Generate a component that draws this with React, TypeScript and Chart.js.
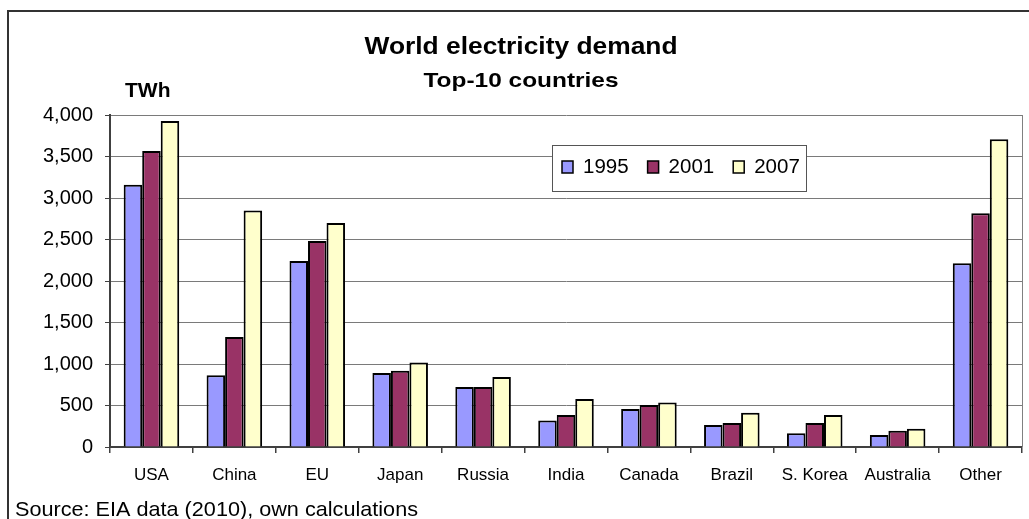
import React, { useEffect, useRef } from "react";
import { Chart, registerables } from "chart.js";

Chart.register(...registerables);

const categories = ["USA", "China", "EU", "Japan", "Russia", "India", "Canada", "Brazil", "S. Korea", "Australia", "Other"];
const seriesLabels = ["1995", "2001", "2007"];
const values1995 = [3160, 865, 2240, 892, 723, 318, 458, 265, 165, 145, 2213];
const values2001 = [3566, 1325, 2482, 918, 723, 386, 506, 289, 289, 197, 2815];
const values2007 = [3928, 2848, 2699, 1017, 843, 578, 535, 414, 386, 221, 3707];
const seriesColors = ["#9999FF", "#993366", "#FFFFCC"];

const titleText = "World electricity demand";
const subtitleText = "Top-10 countries";
const unitText = "TWh";
const sourceText = "Source: EIA data (2010), own calculations";

const FONT = '"Liberation Sans", Arial, sans-serif';

const W = 1029;
const H = 519;

function stretchedText(ctx: CanvasRenderingContext2D, text: string, x: number, y: number, font: string, targetWidth: number | null, align: "left" | "center") {
  ctx.save();
  ctx.font = font;
  ctx.fillStyle = "#000";
  ctx.textBaseline = "alphabetic";
  const w = ctx.measureText(text).width;
  const sx = targetWidth ? targetWidth / w : 1;
  ctx.translate(x, y);
  ctx.scale(sx, 1);
  ctx.textAlign = align;
  ctx.fillText(text, 0, 0);
  ctx.restore();
}

const decorPlugin = {
  id: "decor",
  beforeDatasetsDraw(chart: any) {
    const { ctx, chartArea } = chart;
    ctx.save();
    ctx.strokeStyle = "#808080";
    ctx.lineWidth = 1;
    ctx.beginPath();
    ctx.moveTo(Math.round(chartArea.right) + 0.5, chartArea.top);
    ctx.lineTo(Math.round(chartArea.right) + 0.5, chartArea.bottom);
    ctx.stroke();
    ctx.restore();
  },
  afterDraw(chart: any) {
    const { ctx } = chart;
    // outer frame
    ctx.save();
    ctx.strokeStyle = "#333";
    ctx.lineWidth = 2;
    ctx.beginPath();
    ctx.moveTo(8, H + 5);
    ctx.lineTo(8, 11);
    ctx.lineTo(W + 5, 11);
    ctx.stroke();
    ctx.restore();

    stretchedText(ctx, titleText, 521, 54, `bold 24px ${FONT}`, 313, "center");
    stretchedText(ctx, subtitleText, 521, 87, `bold 21px ${FONT}`, 195, "center");
    stretchedText(ctx, unitText, 125, 97, `bold 21px ${FONT}`, null, "left");
    stretchedText(ctx, sourceText, 15, 516, `21px ${FONT}`, 403, "left");

    // legend
    ctx.save();
    ctx.fillStyle = "#fff";
    ctx.fillRect(552.5, 145.5, 254, 46);
    ctx.strokeStyle = "#555";
    ctx.lineWidth = 1;
    ctx.strokeRect(552.5, 145.5, 254, 46);
    ctx.font = `20.5px ${FONT}`;
    ctx.textBaseline = "alphabetic";
    ctx.textAlign = "left";
    let x = 562;
    chart.data.datasets.forEach((ds: any) => {
      ctx.fillStyle = ds.backgroundColor;
      ctx.fillRect(x, 161, 11, 12);
      ctx.strokeStyle = "#000";
      ctx.lineWidth = 1.5;
      ctx.strokeRect(x, 161, 11, 12);
      ctx.fillStyle = "#000";
      const tx = x + 21;
      ctx.fillText(ds.label, tx, 173);
      x = tx + ctx.measureText(ds.label).width + 19;
    });
    ctx.restore();
  },
};

export default function App() {
  const ref = useRef<HTMLCanvasElement | null>(null);

  useEffect(() => {
    if (!ref.current) return;
    const allValues = [values1995, values2001, values2007];
    const chart = new Chart(ref.current, {
      type: "bar",
      data: {
        labels: categories,
        datasets: seriesLabels.map((label, i) => ({
          label,
          data: allValues[i],
          backgroundColor: seriesColors[i],
          borderColor: "#000",
          borderWidth: 2,
          categoryPercentage: 0.67,
          barPercentage: 1.0,
        })),
      },
      options: {
        responsive: false,
        animation: false,
        layout: { padding: { top: 115, right: 7, left: 0, bottom: 0 } },
        plugins: {
          legend: { display: false },
          title: { display: false },
          tooltip: { enabled: false },
        },
        scales: {
          x: {
            grid: {
              display: true,
              drawOnChartArea: false,
              drawTicks: true,
              offset: true,
              tickLength: 6,
              color: "#404040",
              lineWidth: 1.5,
            },
            border: { display: true, color: "#404040", width: 2 },
            ticks: {
              color: "#000",
              font: { family: FONT, size: 17 },
              padding: 12,
              maxRotation: 0,
              autoSkip: false,
            },
            afterFit(scale: any) {
              scale.height = 72;
            },
          },
          y: {
            min: 0,
            max: 4000,
            ticks: {
              stepSize: 500,
              color: "#000",
              font: { family: FONT, size: 20 },
              padding: 12,
            },
            grid: {
              color: "#7a7a7a",
              lineWidth: 1,
              drawTicks: true,
              tickLength: 5,
              tickColor: "#404040",
            },
            border: { display: true, color: "#404040", width: 2 },
            afterFit(scale: any) {
              scale.width = 110;
            },
          },
        },
      },
      plugins: [decorPlugin],
    });
    return () => chart.destroy();
  }, []);

  return (
    <div style={{ position: "absolute", left: 0, top: 0, width: W, height: H, background: "#fff" }}>
      <canvas ref={ref} width={W} height={H} style={{ display: "block" }} />
    </div>
  );
}
